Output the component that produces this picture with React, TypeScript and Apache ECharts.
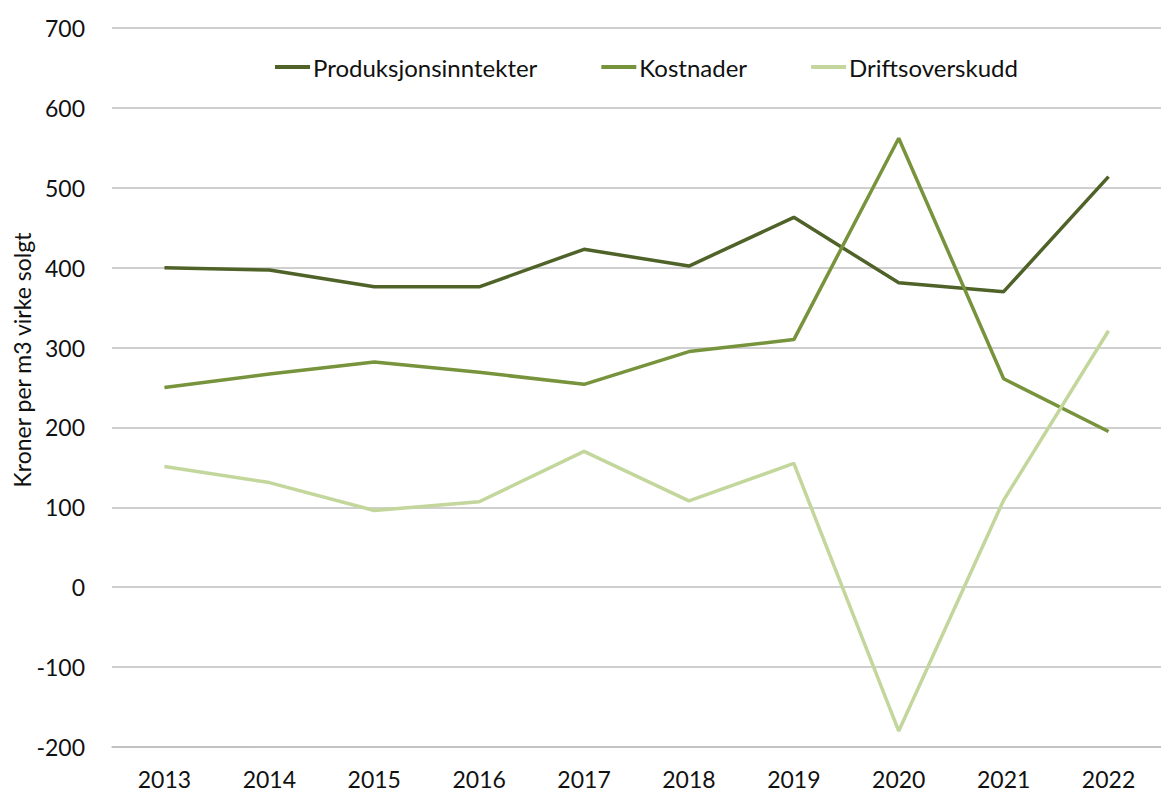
import React, { useEffect, useRef } from "react";
import * as echarts from "echarts";

const years = ["2013", "2014", "2015", "2016", "2017", "2018", "2019", "2020", "2021", "2022"];
const produksjonsinntekter = [400, 397, 376, 376, 423, 402, 463, 381, 370, 514];
const kostnader = [250, 267, 282, 269, 254, 295, 310, 562, 261, 195];
const driftsoverskudd = [151, 131, 96, 107, 170, 108, 155, -180, 109, 321];
const seriesNames = ["Produksjonsinntekter", "Kostnader", "Driftsoverskudd"];
const yTitle = "Kroner per m3 virke solgt";

const FONT = "Lato, 'Open Sans', sans-serif";
const colors = ["#4f6228", "#77933c", "#c3d69b"];

export default function App() {
  const ref = useRef<HTMLDivElement>(null);
  useEffect(() => {
    if (!ref.current) return;
    const chart = echarts.init(ref.current, null, { renderer: "svg" });
    const data = [produksjonsinntekter, kostnader, driftsoverskudd];
    chart.setOption({
      animation: false,
      color: colors,
      textStyle: { fontFamily: FONT },
      grid: { left: 112, top: 28, width: 1058, height: 719, containLabel: false },
      legend: {
        left: 275,
        top: 55,
        padding: 0,
        itemWidth: 35,
        itemHeight: 4,
        itemGap: 64,
        icon: "rect",
        data: seriesNames,
        textStyle: { fontFamily: FONT, fontSize: 24, color: "#111", padding: [0, 0, 0, -2] },
      },
      xAxis: {
        type: "category",
        data: years,
        boundaryGap: true,
        axisLine: { show: true, onZero: false, lineStyle: { color: "#bfbfbf", width: 1.5 } },
        axisTick: { show: false },
        axisLabel: { fontFamily: FONT, fontSize: 23, color: "#111", margin: 20 },
      },
      yAxis: {
        type: "value",
        min: -200,
        max: 700,
        interval: 100,
        axisLine: { show: false },
        axisTick: { show: false },
        splitLine: { lineStyle: { color: "#bfbfbf", width: 1.5 } },
        axisLabel: { fontFamily: FONT, fontSize: 23, color: "#111", margin: 27 },
      },
      graphic: [
        {
          type: "text",
          x: 22,
          y: 360,
          rotation: Math.PI / 2,
          style: {
            text: yTitle,
            fontFamily: FONT,
            fontSize: 23,
            fill: "#111",
            textAlign: "center",
            textVerticalAlign: "middle",
          },
        },
      ],
      series: seriesNames.map((name, i) => ({
        name,
        type: "line",
        data: data[i],
        symbol: "none",
        lineStyle: { width: 3.5, color: colors[i] },
        itemStyle: { color: colors[i] },
      })),
    });
    return () => chart.dispose();
  }, []);
  return (
    <div
      ref={ref}
      style={{ position: "fixed", left: 0, top: 0, width: 1161, height: 792, background: "#fff" }}
    />
  );
}
